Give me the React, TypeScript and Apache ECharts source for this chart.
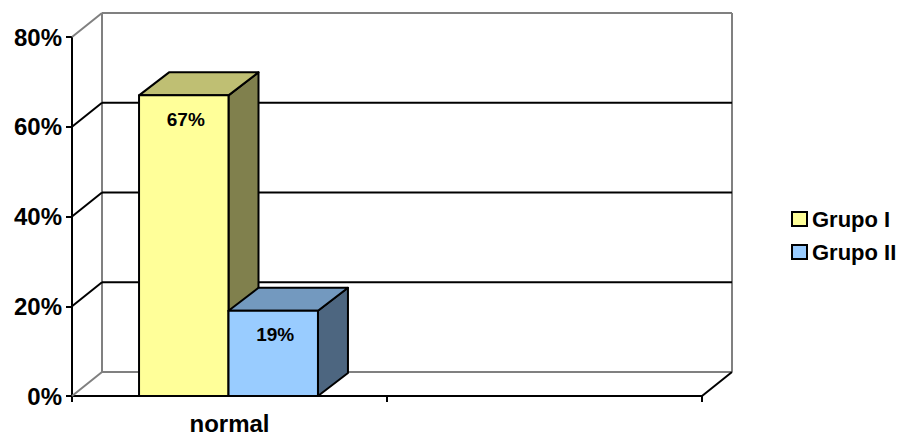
import React, { useEffect, useRef } from "react";
import * as echarts from "echarts";

const categories = ["normal", ""];
const grupoI: (number | null)[] = [67, null];
const grupoII: (number | null)[] = [19, null];
const yTicks = [0, 20, 40, 60, 80];
const seriesNames = ["Grupo I", "Grupo II"];

const FONT = '"Liberation Sans", Arial, sans-serif';
const WALL_DX = 30;
const WALL_DY = -24;
const BAR_DX = 30;
const BAR_DY = -23;

const palettes = [
  { front: "#FFFF99", top: "#BFBF73", side: "#80804D" },
  { front: "#99CCFF", top: "#7399BF", side: "#4D6680" },
];

function barRender(seriesIdx: number) {
  return (params: any, api: any) => {
    const ci = api.value(0);
    const v = api.value(1);
    if (isNaN(v)) return null;
    const base = api.coord([ci, 0]);
    const topPt = api.coord([ci, v]);
    const bandW = api.size([1, 0])[0];
    const barW = bandW * 0.284;
    const cx = base[0] - 1;
    const left = seriesIdx === 0 ? cx - barW : cx;
    const right = left + barW;
    const yb = base[1];
    const yt = topPt[1];
    const p = palettes[seriesIdx];
    const stroke = { stroke: "#000", lineWidth: 2, lineJoin: "round" };
    return {
      type: "group",
      children: [
        {
          type: "polygon",
          shape: {
            points: [
              [right, yt],
              [right + BAR_DX, yt + BAR_DY],
              [right + BAR_DX, yb + BAR_DY],
              [right, yb],
            ],
          },
          style: { fill: p.side, ...stroke },
        },
        {
          type: "polygon",
          shape: {
            points: [
              [left, yt],
              [left + BAR_DX, yt + BAR_DY],
              [right + BAR_DX, yt + BAR_DY],
              [right, yt],
            ],
          },
          style: { fill: p.top, ...stroke },
        },
        {
          type: "rect",
          shape: { x: left, y: yt, width: barW, height: yb - yt },
          style: { fill: p.front, ...stroke },
        },
        {
          type: "text",
          style: {
            text: v + "%",
            x: (left + right) / 2 + 2,
            y: yt + 24,
            align: "center",
            verticalAlign: "middle",
            fontSize: 19,
            fontWeight: "bold",
            fontFamily: FONT,
            fill: "#000",
          },
        },
      ],
    };
  };
}

function wallRender(params: any, api: any) {
  const v = api.value(1);
  const cs = params.coordSys;
  const x0 = cs.x;
  const x1 = cs.x + cs.width;
  const y = api.coord([0, v])[1];
  const edge = v === yTicks[0] || v === yTicks[yTicks.length - 1];
  const color = edge ? "#808080" : "#000";
  const children: any[] = [
    {
      type: "line",
      shape: { x1: x0, y1: y, x2: x0 + WALL_DX, y2: y + WALL_DY },
      style: { stroke: color, lineWidth: 2 },
    },
    {
      type: "line",
      shape: { x1: x0 + WALL_DX, y1: y + WALL_DY, x2: x1 + WALL_DX, y2: y + WALL_DY },
      style: { stroke: color, lineWidth: 2 },
    },
  ];
  if (v === yTicks[0]) {
    const yTop = api.coord([0, yTicks[yTicks.length - 1]])[1];
    children.push(
      {
        type: "line",
        shape: { x1: x0 + WALL_DX, y1: y + WALL_DY, x2: x0 + WALL_DX, y2: yTop + WALL_DY },
        style: { stroke: "#808080", lineWidth: 2 },
      },
      {
        type: "line",
        shape: { x1: x1 + WALL_DX, y1: y + WALL_DY, x2: x1 + WALL_DX, y2: yTop + WALL_DY },
        style: { stroke: "#808080", lineWidth: 2 },
      },
      {
        type: "line",
        shape: { x1: x1, y1: y, x2: x1 + WALL_DX, y2: y + WALL_DY },
        style: { stroke: "#000", lineWidth: 2 },
      }
    );
  }
  return { type: "group", children };
}

export default function App() {
  const ref = useRef<HTMLDivElement>(null);
  useEffect(() => {
    if (!ref.current) return;
    const chart = echarts.init(ref.current, null, { renderer: "svg" });
    const groups = [grupoI, grupoII];
    chart.setOption({
      animation: false,
      backgroundColor: "#fff",
      grid: { left: 72, right: 206, top: 37, bottom: 38, containLabel: false },
      legend: {
        data: seriesNames,
        orient: "vertical",
        left: 786,
        top: 203,
        icon: "rect",
        itemWidth: 15,
        itemHeight: 14,
        itemGap: 11,
        itemStyle: { borderColor: "#000", borderWidth: 2 },
        textStyle: { fontSize: 22, fontWeight: "bold", fontFamily: FONT, color: "#000" },
        selectedMode: false,
      },
      xAxis: {
        type: "category",
        data: categories,
        axisLine: { lineStyle: { color: "#000", width: 2 } },
        axisTick: { show: true, length: 6, lineStyle: { color: "#000", width: 2 } },
        axisLabel: { fontSize: 24, fontWeight: "bold", fontFamily: FONT, color: "#000", margin: 15 },
        splitLine: { show: false },
      },
      yAxis: {
        type: "value",
        min: 0,
        max: 80,
        interval: 20,
        axisLine: { show: true, lineStyle: { color: "#000", width: 2 } },
        axisTick: { show: true, length: 6, lineStyle: { color: "#000", width: 2 } },
        axisLabel: {
          formatter: "{value}%",
          fontSize: 24,
          fontWeight: "bold",
          fontFamily: FONT,
          color: "#000",
          margin: 10,
        },
        splitLine: { show: false },
      },
      series: [
        {
          type: "custom",
          name: "walls",
          silent: true,
          z: 1,
          renderItem: wallRender,
          data: yTicks.map((t) => [0, t]),
        },
        ...groups.map((g, si) => ({
          type: "custom",
          name: seriesNames[si],
          z: 3 + si,
          itemStyle: { color: palettes[si].front, borderColor: "#000", borderWidth: 2 },
          renderItem: barRender(si),
          data: g
            .map((v, i) => [i, v])
            .filter((d) => d[1] !== null),
        })),
      ],
    });
    return () => chart.dispose();
  }, []);
  return (
    <div
      ref={ref}
      style={{ position: "absolute", left: 0, top: 0, width: 908, height: 435 }}
    />
  );
}
